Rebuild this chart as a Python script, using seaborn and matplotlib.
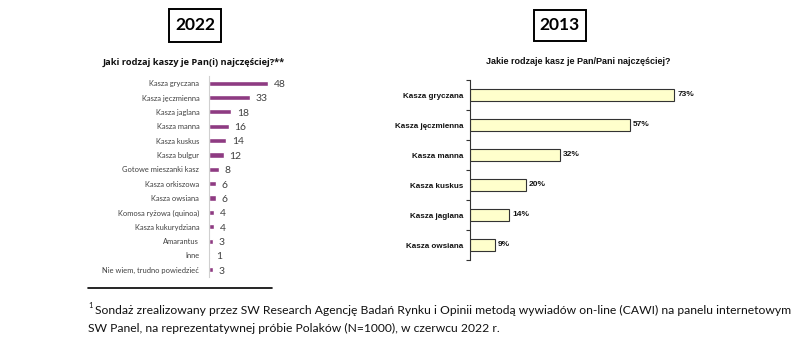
import matplotlib
matplotlib.use("Agg")
import matplotlib.pyplot as plt
import seaborn as sns
import pandas as pd
from matplotlib.patches import Rectangle
from matplotlib.ticker import FixedLocator

sns.set_theme(style="white")
plt.rcParams['font.family'] = ['Lato', 'DejaVu Sans']

# ---- data ----
cats_2022 = ["Kasza gryczana", "Kasza jęczmienna", "Kasza jaglana", "Kasza manna",
             "Kasza kuskus", "Kasza bulgur", "Gotowe mieszanki kasz", "Kasza orkiszowa",
             "Kasza owsiana", "Komosa ryżowa (quinoa)", "Kasza kukurydziana",
             "Amarantus", "Inne", "Nie wiem, trudno powiedzieć"]
vals_2022 = [48, 33, 18, 16, 14, 12, 8, 6, 6, 4, 4, 3, 1, 3]

cats_2013 = ["Kasza gryczana", "Kasza jęczmienna", "Kasza manna", "Kasza kuskus",
             "Kasza jaglana", "Kasza owsiana"]
vals_2013 = [73, 57, 32, 20, 14, 9]

title_2022 = "Jaki rodzaj kaszy je Pan(i) najczęściej?**"
title_2013 = "Jakie rodzaje kasz je Pan/Pani najczęściej?"
footnote_1 = "Sondaż zrealizowany przez SW Research Agencję Badań Rynku i Opinii metodą wywiadów on-line (CAWI) na panelu internetowym"
footnote_2 = "SW Panel, na reprezentatywnej próbie Polaków (N=1000), w czerwcu 2022 r."

W, H = 800, 340
fig = plt.figure(figsize=(8, 3.4), dpi=100)

def px_axes(left, top, right, bottom):
    return fig.add_axes([left / W, (H - bottom) / H, (right - left) / W, (bottom - top) / H])

# ---- 2022 chart ----
df22 = pd.DataFrame({"cat": cats_2022, "val": vals_2022})
ax1 = px_axes(209, 76, 283, 277)
sns.barplot(data=df22, x="val", y="cat", orient="h", color="#8E3B82",
            width=0.36, ax=ax1, saturation=1)
ax1.set_xlim(0, 60)
ax1.set_ylim(len(cats_2022) - 0.5, -0.5)
ax1.set_xlabel(""); ax1.set_ylabel("")
ax1.set_xticks([])
for s in ["top", "right", "bottom"]:
    ax1.spines[s].set_visible(False)
ax1.spines["left"].set_color("#d0d0d0")
ax1.spines["left"].set_linewidth(0.8)
ax1.tick_params(axis="y", length=0, pad=7, labelsize=5.4, labelcolor="#404040")
for p, v in zip(ax1.patches, vals_2022):
    ax1.annotate(str(v), (p.get_width(), p.get_y() + p.get_height() / 2),
                 xytext=(4, -1), textcoords="offset points", va="center", ha="left",
                 fontsize=7.5, color="#404040")

# ---- 2013 chart ----
df13 = pd.DataFrame({"cat": cats_2013, "val": vals_2013})
ax2 = px_axes(470, 80, 694, 260)
sns.barplot(data=df13, x="val", y="cat", orient="h", color="#FFFFCC",
            width=0.42, ax=ax2, saturation=1, edgecolor="#333333", linewidth=0.8)
ax2.set_xlim(0, 80)
ax2.set_ylim(len(cats_2013) - 0.5, -0.5)
ax2.set_xlabel(""); ax2.set_ylabel("")
ax2.set_xticks([])
for s in ["top", "right", "bottom"]:
    ax2.spines[s].set_visible(False)
ax2.spines["left"].set_color("#333333")
ax2.spines["left"].set_linewidth(0.8)
ax2.tick_params(axis="y", which="major", length=0, pad=5)
ax2.yaxis.set_minor_locator(FixedLocator([i - 0.5 for i in range(len(cats_2013) + 1)]))
ax2.tick_params(axis="y", which="minor", length=3, width=0.8, color="#333333", left=True, direction="out")
for lab in ax2.get_yticklabels():
    lab.set_family(["Liberation Sans", "DejaVu Sans"])
    lab.set_fontweight("bold")
    lab.set_fontsize(5.8)
    lab.set_color("#111111")
for p, v in zip(ax2.patches, vals_2013):
    ax2.annotate(f"{v}%", (p.get_width(), p.get_y() + p.get_height() / 2),
                 xytext=(2, 0), textcoords="offset points", va="center", ha="left",
                 fontsize=6, fontweight="bold", color="#111111",
                 family=["Liberation Sans", "DejaVu Sans"])

# ---- year boxes and titles ----
def year_box(x0, y0, x1, y1, text):
    fig.patches.append(Rectangle((x0 / W, (H - y1) / H), (x1 - x0) / W, (y1 - y0) / H,
                                 transform=fig.transFigure, fill=False,
                                 edgecolor="black", linewidth=1.4))
    fig.text((x0 + x1) / 2 / W, (H - (y0 + y1) / 2) / H, text, ha="center", va="center",
             fontsize=12.5, fontweight="bold", color="black")

year_box(169, 9, 221, 42, "2022")
year_box(534, 10, 586, 41, "2013")

fig.text(194 / W, (H - 62) / H, title_2022, ha="center", va="center",
         fontsize=6.7, fontweight="bold", color="#111111",
         family=["Open Sans", "DejaVu Sans"])
fig.text(578 / W, (H - 62) / H, title_2013, ha="center", va="center",
         fontsize=6.5, fontweight="bold", color="#111111",
         family=["Liberation Sans", "DejaVu Sans"])

# ---- footnote ----
fig.add_artist(plt.Line2D([88 / W, 272 / W], [(H - 288) / H] * 2,
                          transform=fig.transFigure, color="black", linewidth=1.2))
fig.text(88 / W, (H - 305) / H, "1", fontsize=5.5, va="center", ha="left", color="#111111")
fig.text(95 / W, (H - 310) / H, footnote_1, fontsize=8.7, va="center", ha="left", color="#111111")
fig.text(88 / W, (H - 328) / H, footnote_2, fontsize=8.7, va="center", ha="left", color="#111111")

fig.savefig("out.png", dpi=100, facecolor="white")
